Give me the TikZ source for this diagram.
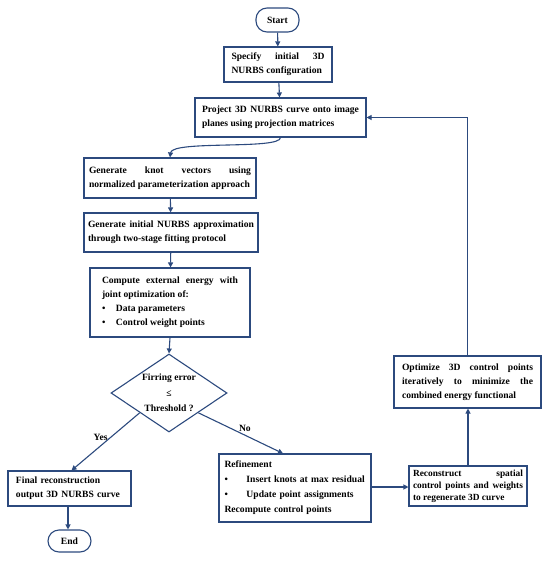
\documentclass[tikz,border=0pt]{standalone}
\usepackage{fontspec}
\setmainfont{Liberation Serif}
\usetikzlibrary{arrows.meta,shapes.geometric}
\definecolor{navy}{HTML}{2C4A7E}
\tikzset{
  box/.style={draw=navy, line width=1.1pt, rectangle, inner sep=0pt,
    font=\fontsize{9.6}{14}\selectfont\bfseries, align=justify},
  term/.style={draw=navy, line width=1.1pt, rectangle, rounded corners=11pt, inner sep=0pt,
    font=\fontsize{9.6}{14}\selectfont\bfseries},
  conn/.style={draw=navy, line width=1.1pt, -{Triangle[length=5pt,width=5pt]}},
  lbl/.style={font=\fontsize{9.6}{14}\selectfont\bfseries, inner sep=0pt},
}
\newcommand{\bul}[1]{\makebox[#1][l]{\textbullet}}
\begin{document}
\begin{tikzpicture}[x=1pt,y=-1pt]
\useasboundingbox (0,0) rectangle (550,562);
\node[term, minimum width=43pt, minimum height=24pt] (start) at (277.5,20) {Start};
\node[box, minimum width=108pt, minimum height=35pt, text width=93pt] (spec) at (278,64.5)
  {Specify initial 3D\linebreak NURBS configuration};
\node[box, minimum width=171pt, minimum height=39pt, text width=157pt] (proj) at (280.5,117.5)
  {Project 3D NURBS curve onto image\linebreak planes using projection matrices};
\node[box, minimum width=172pt, minimum height=40pt, text width=162pt] (knot) at (170,178)
  {Generate knot vectors using\linebreak normalized parameterization approach};
\node[box, minimum width=174pt, minimum height=39pt, text width=166pt] (init) at (171,232.5)
  {Generate initial NURBS approximation\linebreak through two-stage fitting protocol};
\node[box, minimum width=160pt, minimum height=69pt, text width=136pt] (comp) at (170,302.5)
  {Compute external energy with\linebreak joint optimization of:\\
   \bul{14pt}Data parameters\\
   \bul{14pt}Control weight points};
\node[draw=navy, line width=1.1pt, diamond, aspect=1.487, minimum width=116pt, minimum height=78pt, inner sep=0pt] (dia) at (169,393) {};
\node[lbl, align=center, font=\fontsize{9.6}{15.5}\selectfont\bfseries] (diatext) at (dia.center) {Firring error\\≤\\Threshold ?};
\node[box, align=left, minimum width=123pt, minimum height=35pt, text width=107pt] (final) at (69.5,488.5)
  {Final reconstruction\\output 3D NURBS curve};
\node[term, minimum width=43pt, minimum height=22pt] (end) at (69.5,541) {End};
\node[box, align=left, minimum width=152pt, minimum height=68pt, text width=141pt, font=\fontsize{9.6}{15}\selectfont\bfseries] (ref) at (295,488)
  {Refinement\\
   \bul{22pt}\mbox{Insert knots at max residual}\\
   \bul{22pt}\mbox{Update point assignments}\\
   Recompute control points};
\node[box, minimum width=118pt, minimum height=40pt, text width=110pt, font=\fontsize{9.4}{12.2}\selectfont\bfseries] (rec) at (468,486)
  {Reconstruct spatial\linebreak control points and weights\linebreak to regenerate 3D curve};
\node[box, minimum width=147pt, minimum height=52pt, text width=131pt] (opt) at (467.5,382)
  {Optimize 3D control points\linebreak iteratively to minimize the\linebreak combined energy functional};
% connectors
\draw[conn] (start) -- (spec);
\draw[conn] (spec) -- (proj);
\draw[conn] (proj.south) .. controls (280.5,150) and (172,140) .. (knot.north);
\draw[conn] (knot) -- (init);
\draw[conn] (init) -- (comp);
\draw[conn] (comp.south) -- (dia.north);
\draw[conn] (dia.south west) -- node[lbl, pos=0.42, left=3pt] {Yes} ([xshift=2pt]final.north);
\draw[conn] (dia.south east) -- node[lbl, pos=0.55, above=3pt] {No} ([xshift=-12pt]ref.north);
\draw[conn] ([xshift=-1.5pt]final.south) -- ([xshift=-1.5pt]end.north);
\draw[conn] (ref.east |- 0,487) -- (rec.west |- 0,487);
\draw[conn] (rec.north) -- (rec.north |- opt.south);
\draw[conn] (opt.north) |- (proj.east);
\end{tikzpicture}
\end{document}
